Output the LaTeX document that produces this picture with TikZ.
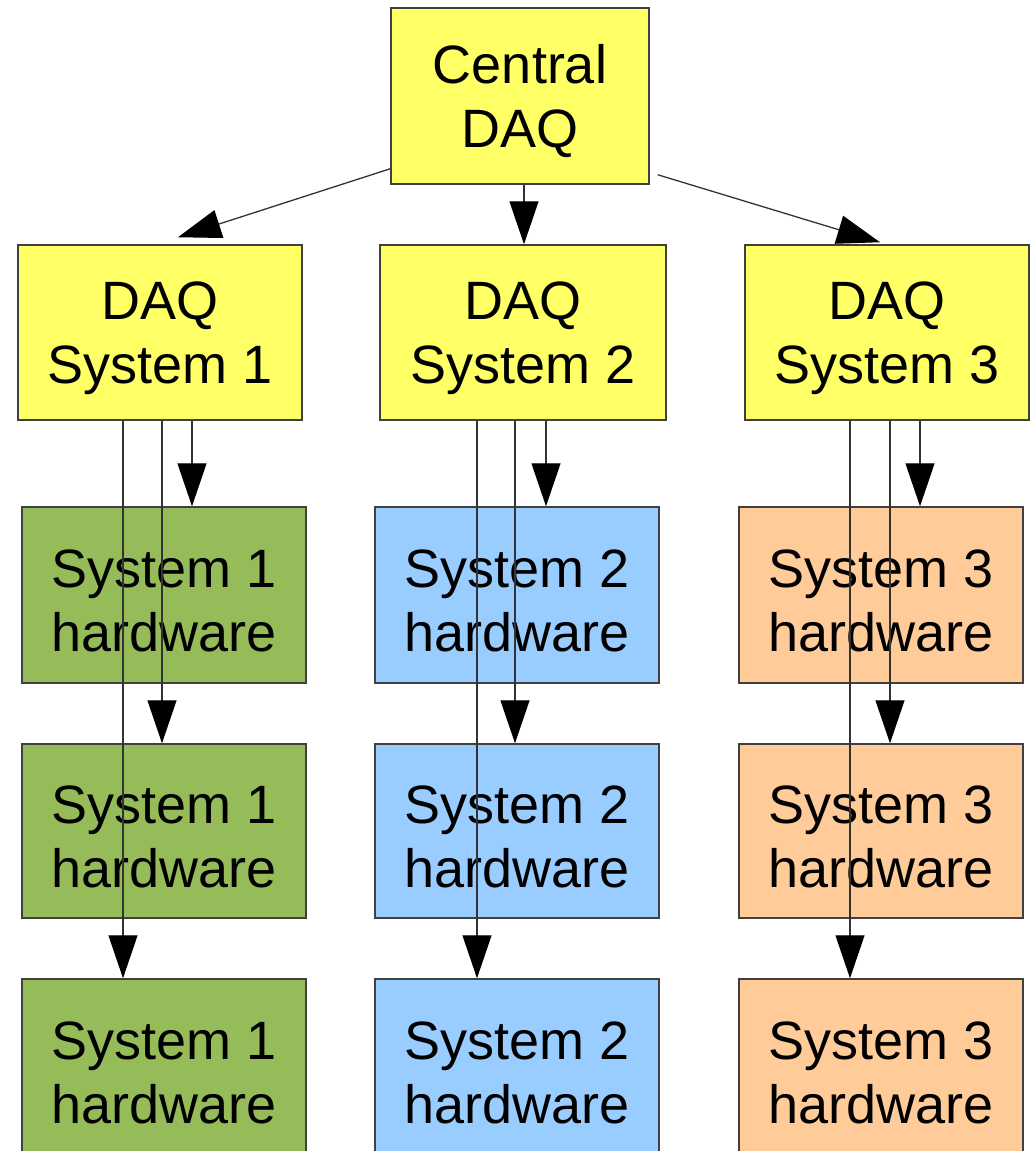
\documentclass[tikz,border=0pt]{standalone}
\usepackage{fontspec}
\setmainfont{Liberation Sans}
\usetikzlibrary{arrows.meta,calc}
\definecolor{daqyellow}{HTML}{FFFF66}
\definecolor{hwgreen}{HTML}{96BC5A}
\definecolor{hwblue}{HTML}{99CCFF}
\definecolor{hworange}{HTML}{FFCC99}
\definecolor{edge}{HTML}{404040}
% a tall strut on the first line sets the labels slightly lower in their boxes
\newcommand\firstline{\rule{0pt}{49pt}}
\tikzset{
  box/.style={draw=edge, line width=1.5pt, rectangle, align=center,
    inner sep=0pt, font=\fontsize{54}{64}\selectfont, text=black},
  daq/.style={box, fill=daqyellow, minimum width=284pt, minimum height=175pt},
  hw/.style={box, minimum width=284pt, minimum height=176pt},
  link/.style={draw=black!80, line width=1.3pt,
    -{Triangle[length=43pt,width=29pt,fill=black,color=black]}},
}
\begin{document}
\begin{tikzpicture}[x=1pt,y=-1pt]
  \useasboundingbox (0,0) rectangle (1030,1151);
  \clip (0,0) rectangle (1030,1151);

  % top level
  \node[daq, minimum width=258pt, minimum height=176pt] (c) at (520,96) {\firstline Central\\DAQ};

  % DAQ systems
  \node[daq] (d1) at (160,332.5) {\firstline DAQ\\System 1};
  \node[daq, minimum width=286pt] (d2) at (523,332.5) {\firstline DAQ\\System 2};
  \node[daq] (d3) at (887,332.5) {\firstline DAQ\\System 3};

  % hardware columns
  \foreach \r/\y/\hgt in {1/595/176, 2/831/174, 3/1067/176} {
    \node[hw, fill=hwgreen, minimum height=\hgt pt] (h1\r) at (164,\y) {\firstline System 1\\hardware};
    \node[hw, fill=hwblue, minimum height=\hgt pt] (h2\r) at (517,\y) {\firstline System 2\\hardware};
    \node[hw, fill=hworange, minimum height=\hgt pt] (h3\r) at (881,\y) {\firstline System 3\\hardware};
  }

  % central to systems
  \draw[link] ([yshift=16pt]c.south west) -- ([xshift=18pt,yshift=7pt]d1.north);
  \draw[link] ([xshift=4pt]c.south) -- ([xshift=4pt]c.south |- d2.north);
  \draw[link] ([xshift=8pt,yshift=10pt]c.south east) -- ([xshift=-7pt,yshift=2pt]d3.north);

  % system 1 links
  \draw[link] ([xshift=32pt]d1.south) -- ([xshift=32pt]d1.south |- h11.north);
  \draw[link] ([xshift=2pt]d1.south) -- ([xshift=2pt]d1.south |- h12.north);
  \draw[link] ([xshift=-37pt]d1.south) -- ([xshift=-37pt]d1.south |- h13.north);

  % system 2 links
  \draw[link] ([xshift=23pt]d2.south) -- ([xshift=23pt]d2.south |- h21.north);
  \draw[link] ([xshift=-8pt]d2.south) -- ([xshift=-8pt]d2.south |- h22.north);
  \draw[link] ([xshift=-46pt]d2.south) -- ([xshift=-46pt]d2.south |- h23.north);

  % system 3 links
  \draw[link] ([xshift=33pt]d3.south) -- ([xshift=33pt]d3.south |- h31.north);
  \draw[link] ([xshift=3pt]d3.south) -- ([xshift=3pt]d3.south |- h32.north);
  \draw[link] ([xshift=-37pt]d3.south) -- ([xshift=-37pt]d3.south |- h33.north);
\end{tikzpicture}
\end{document}
